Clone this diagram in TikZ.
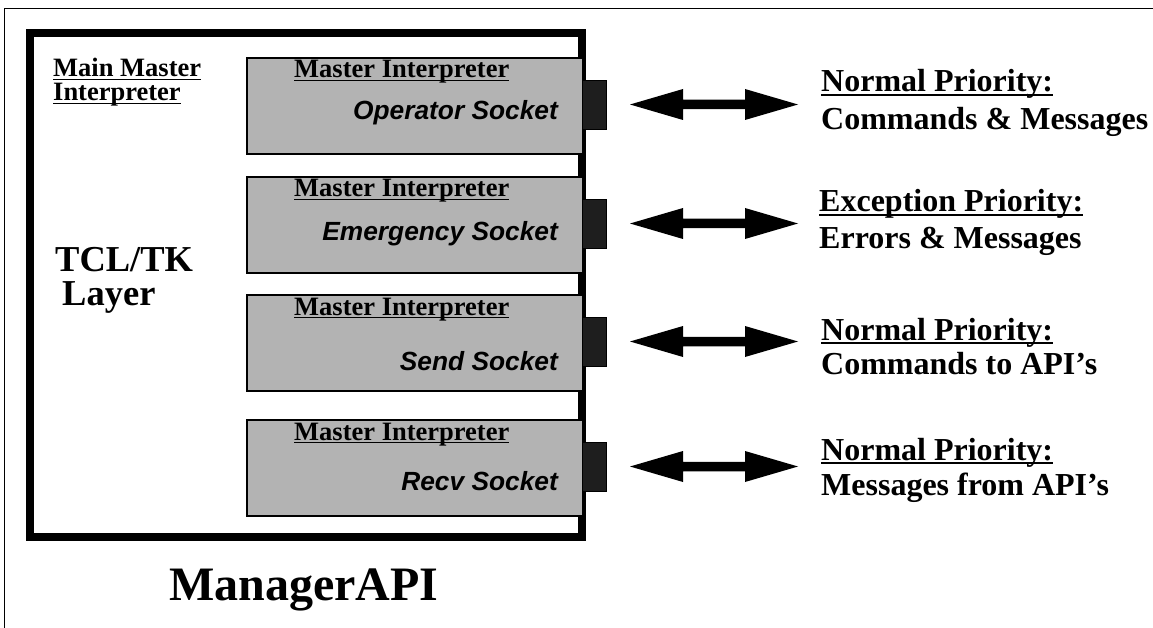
\documentclass[tikz,border=0pt]{standalone}
\usepackage{fontspec}
\setmainfont{Liberation Serif}
\newfontfamily\arialf{Liberation Sans}
\newsavebox\ulsave
\newcommand\ulx[1]{\sbox\ulsave{#1}\rlap{\rule[-0.12em]{\wd\ulsave}{0.06em}}\usebox\ulsave}
\definecolor{boxgrey}{RGB}{179,179,179}
\definecolor{tabdark}{RGB}{30,30,30}
\tikzset{
  lbl/.style={anchor=base west, inner sep=0pt, font=\bfseries\fontsize{26.5}{30}\selectfont},
  rlbl/.style={anchor=base west, inner sep=0pt, font=\bfseries\fontsize{32}{36}\selectfont},
  sock/.style={anchor=base east, inner sep=0pt, font=\arialf\bfseries\itshape\fontsize{26.3}{30}\selectfont},
  greybox/.style={draw=black, line width=2pt, fill=boxgrey},
  tab/.style={draw=black, line width=1pt, fill=tabdark},
  dblarrow/.style={fill=black, draw=none}
}
\begin{document}
\begin{tikzpicture}[x=1pt,y=-1pt]
\useasboundingbox (0,0) rectangle (1153,628);
\fill[white] (0,0) rectangle (1153,628);
% outer frame (top and left edges)
\coordinate (fbl) at (4.5,628);
\coordinate (ftl) at (4.5,8.5);
\coordinate (ftr) at (1153,8.5);
\draw[line width=1.5pt] (fbl) -- (ftl) -- (ftr);
% main box
\draw[line width=7.5pt] (30,33) rectangle (582,537);
% left labels
\node[lbl] (mmi1) at (53,77) {\ulx{Main Master}};
\node[lbl] (mmi2) at (53,101) {\ulx{Interpreter}};
\node[anchor=base west, inner sep=0pt, font=\bfseries\fontsize{36.5}{40}\selectfont] (tcl) at (55,272) {TCL/TK};
\node[anchor=base west, inner sep=0pt, font=\bfseries\fontsize{36.5}{40}\selectfont] (layer) at (62,305) {Layer};
\node[anchor=base west, inner sep=0pt, font=\bfseries\fontsize{48}{52}\selectfont] (mapi) at (169,600) {ManagerAPI};
% rows
\foreach \top/\sb/\name/\sname in {57/120/Operator Socket/op, 176/241/Emergency Socket/em, 294/370/Send Socket/se, 419/490/Recv Socket/re}{
  \node[greybox, anchor=north west, minimum width=336pt, minimum height=96pt, inner sep=0pt] (box\sname) at (246,\top) {};
  \node[tab, anchor=north west, minimum width=24pt, minimum height=49pt, inner sep=0pt] (tab\sname) at (582,\top+23) {};
  \node[lbl] (mi\sname) at (294,\top+21) {\ulx{Master Interpreter}};
  \node[sock] (sk\sname) at (558,\sb) {\name};
  \pgfmathsetmacro\c{\top+47.5}
  \fill[dblarrow] (630,\c) -- (683,\c-15.5) -- (683,\c-4.75) -- (745,\c-4.75) -- (745,\c-15.5) -- (798,\c) -- (745,\c+15.5) -- (745,\c+4.75) -- (683,\c+4.75) -- (683,\c+15.5) -- cycle;
}
% right labels
\node[rlbl] (p1) at (821,92) {\ulx{Normal Priority:}};
\node[rlbl] (d1) at (821,130) {Commands \& Messages};
\node[rlbl] (p2) at (819,212) {\ulx{Exception Priority:}};
\node[rlbl] (d2) at (819,249) {Errors \& Messages};
\node[rlbl] (p3) at (821,340) {\ulx{Normal Priority:}};
\node[rlbl] (d3) at (821,374) {Commands to API’s};
\node[rlbl] (p4) at (821,460) {\ulx{Normal Priority:}};
\node[rlbl] (d4) at (821,495) {Messages from API’s};
\end{tikzpicture}
\end{document}
